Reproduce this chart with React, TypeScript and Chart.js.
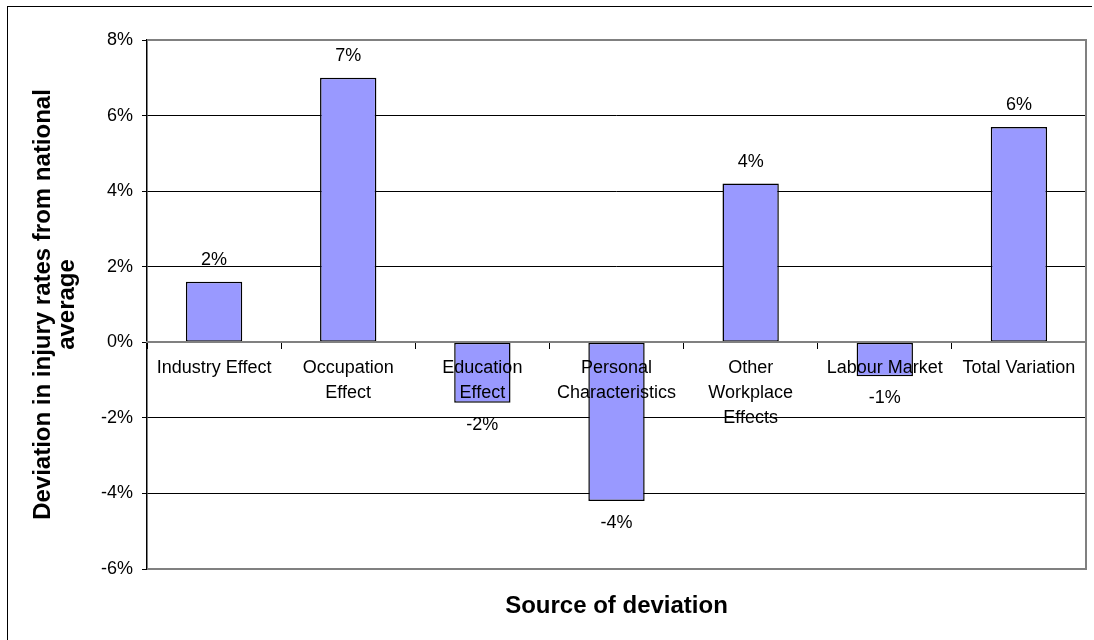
import React, { useEffect, useRef } from "react";
import { Chart, registerables } from "chart.js";

Chart.register(...registerables);

// Sources of deviation (category axis labels, wrapped as in the worksheet)
const categories: (string | string[])[] = [
  "Industry Effect",
  ["Occupation", "Effect"],
  ["Education", "Effect"],
  ["Personal", "Characteristics"],
  ["Other", "Workplace", "Effects"],
  "Labour Market",
  "Total Variation",
];

// Deviation in injury rates from the national average, in percent
const deviation = [1.6, 7.0, -1.6, -4.2, 4.2, -0.9, 5.7];

// Value axis range and step (percent)
const yMin = -6;
const yMax = 8;
const yStep = 2;

const yTitle = ["Deviation in injury rates from national", "average"];
const xTitle = "Source of deviation";

const FONT = '"Liberation Sans", Arial, Helvetica, sans-serif';

// Rounded percentage label above positive bars and below negative ones
const valueLabels = {
  id: "valueLabels",
  afterDatasetsDraw(chart: any) {
    const ctx = chart.ctx;
    const meta = chart.getDatasetMeta(0);
    ctx.save();
    ctx.font = `18px ${FONT}`;
    ctx.fillStyle = "#000";
    ctx.textAlign = "center";
    ctx.textBaseline = "middle";
    meta.data.forEach((bar: any, i: number) => {
      const v = deviation[i];
      const y = v >= 0 ? bar.y - 22 : bar.y + 22;
      ctx.fillText(`${Math.round(v)}%`, bar.x, y);
    });
    ctx.restore();
  },
};

// Grey frame on the top, right and bottom of the plot area
const plotFrame = {
  id: "plotFrame",
  beforeDatasetsDraw(chart: any) {
    const { ctx, chartArea: a } = chart;
    ctx.save();
    ctx.strokeStyle = "#808080";
    ctx.lineWidth = 2;
    ctx.beginPath();
    ctx.moveTo(a.left, a.top);
    ctx.lineTo(a.right, a.top);
    ctx.lineTo(a.right, a.bottom);
    ctx.lineTo(a.left, a.bottom);
    ctx.stroke();
    ctx.restore();
  },
};

export default function App() {
  const canvasRef = useRef<HTMLCanvasElement>(null);

  useEffect(() => {
    if (!canvasRef.current) return;
    const chart = new Chart(canvasRef.current, {
      type: "bar",
      data: {
        labels: categories as any,
        datasets: [
          {
            data: deviation,
            xAxisID: "x",
            yAxisID: "y",
            backgroundColor: "#9999ff",
            borderColor: "#000000",
            borderWidth: 1.5,
            borderSkipped: false,
            barPercentage: 0.42,
            categoryPercentage: 1,
          },
        ],
      },
      options: {
        animation: false,
        responsive: false,
        maintainAspectRatio: false,
        layout: { padding: { top: 40, right: 8, bottom: 22, left: 0 } },
        plugins: {
          legend: { display: false },
          tooltip: { enabled: false },
        },
        scales: {
          x: {
            axis: "x",
            type: "category",
            position: { y: 0 } as any,
            offset: true,
            grid: {
              display: true,
              drawOnChartArea: false,
              drawTicks: true,
              tickLength: 6,
              color: "#000",
              offset: true,
            },
            border: { display: true, color: "#808080", width: 2, z: 1 },
            ticks: {
              z: 1,
              color: "#000",
              font: { family: FONT, size: 18, lineHeight: 1.39 },
              padding: 7,
              maxRotation: 0,
              minRotation: 0,
              autoSkip: false,
            },
            afterFit: (s: any) => {
              s.height = 0;
            },
          },
          x2: {
            axis: "x",
            type: "category",
            position: "bottom",
            grid: { display: false },
            border: { display: false },
            ticks: { display: false },
            title: {
              display: true,
              text: xTitle,
              color: "#000",
              font: { family: FONT, size: 24, weight: "bold", lineHeight: 1 },
              padding: { top: 0, bottom: 0 },
            },
            afterFit: (s: any) => {
              s.height = 49;
            },
          },
          y: {
            type: "linear",
            position: "left",
            min: yMin,
            max: yMax,
            ticks: {
              stepSize: yStep,
              color: "#000",
              font: { family: FONT, size: 18 },
              padding: 9,
              callback: (v: any) => `${v}%`,
            },
            grid: {
              color: (c: any) =>
                c.tick && (c.tick.value === yMax || c.tick.value === yMin)
                  ? "#808080"
                  : "#000",
              tickColor: "#000",
              tickLength: 5,
              lineWidth: 1,
            },
            border: { display: true, color: "#000", width: 1.5 },
            title: {
              display: true,
              text: yTitle,
              color: "#000",
              font: { family: FONT, size: 24, weight: "bold", lineHeight: 1 },
              padding: { top: 31, bottom: 0 },
            },
            afterFit: (s: any) => {
              s.width = 147;
            },
          },
        },
      },
      plugins: [plotFrame, valueLabels],
    } as any);
    return () => chart.destroy();
  }, []);

  return (
    <div
      style={{
        position: "absolute",
        left: 0,
        top: 0,
        width: 1094,
        height: 640,
        overflow: "hidden",
        background: "#fff",
      }}
    >
      <div
        style={{
          position: "absolute",
          left: 7,
          top: 6,
          width: 1084,
          height: 700,
          borderTop: "1px solid #000",
          borderLeft: "1px solid #000",
        }}
      />
      <canvas
        ref={canvasRef}
        width={1094}
        height={640}
        style={{ position: "absolute", left: 0, top: 0, width: 1094, height: 640 }}
      />
    </div>
  );
}
